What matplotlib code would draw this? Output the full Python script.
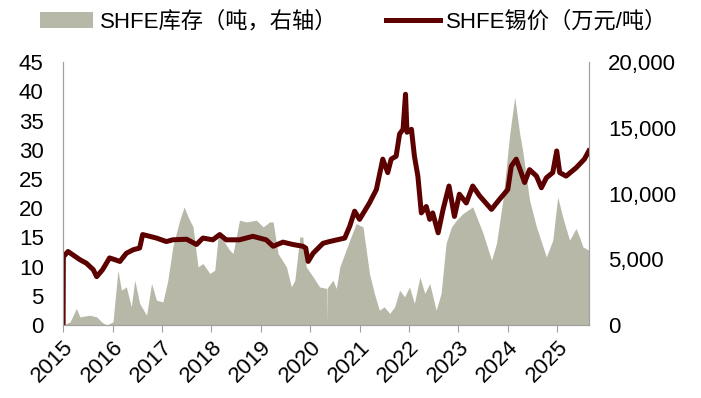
import matplotlib
matplotlib.use("Agg")
import matplotlib.pyplot as plt
from matplotlib.ticker import FuncFormatter

plt.rcParams['font.family'] = ['Liberation Sans', 'Noto Sans CJK SC', 'DejaVu Sans']

# SHFE tin price (10k yuan / ton), x in decimal years
price_t = [2015.00, 2015.005, 2015.10, 2015.34, 2015.47, 2015.61, 2015.68, 2015.80, 2015.94,
           2016.05, 2016.15, 2016.28, 2016.42, 2016.55, 2016.61, 2016.75, 2016.89,
           2017.09, 2017.22, 2017.50, 2017.70, 2017.83, 2018.03, 2018.17, 2018.30,
           2018.57, 2018.84, 2019.11, 2019.25, 2019.45, 2019.65, 2019.85, 2019.91,
           2019.96, 2020.06, 2020.26, 2020.39, 2020.70, 2020.80, 2020.90, 2021.00,
           2021.20, 2021.34, 2021.47, 2021.57, 2021.64, 2021.74, 2021.81, 2021.88,
           2021.93, 2021.96, 2022.05, 2022.11, 2022.18, 2022.25, 2022.35, 2022.42,
           2022.48, 2022.59, 2022.69, 2022.81, 2022.92, 2023.02, 2023.16, 2023.29,
           2023.43, 2023.67, 2023.83, 2024.00, 2024.07, 2024.17, 2024.27, 2024.34,
           2024.44, 2024.58, 2024.68, 2024.78, 2024.91, 2024.99, 2025.05, 2025.18,
           2025.38, 2025.55, 2025.64]
price = [0, 11.7, 12.6, 11.2, 10.6, 9.5, 8.3, 9.5, 11.5,
         11.2, 10.9, 12.3, 12.9, 13.2, 15.5, 15.2, 14.9,
         14.3, 14.6, 14.7, 13.8, 14.9, 14.6, 15.5, 14.6,
         14.6, 15.2, 14.6, 13.5, 14.2, 13.8, 13.5, 13.2,
         10.9, 12.3, 14.0, 14.3, 14.9, 16.9, 19.5, 18.1,
         20.9, 23.2, 28.4, 26.1, 28.4, 28.9, 32.7, 33.5,
         39.5, 33.0, 33.5, 28.9, 25.5, 19.2, 20.3, 18.1,
         19.2, 15.8, 19.8, 23.8, 18.6, 22.4, 20.9, 23.8,
         22.1, 19.8, 21.5, 23.2, 27.2, 28.4, 26.1, 24.4,
         26.6, 25.5, 23.5, 25.2, 26.1, 29.8, 26.1, 25.5,
         26.9, 28.4, 29.8]

# SHFE tin inventory (tons)
inv_t = [2015.00, 2015.14, 2015.27, 2015.34, 2015.54, 2015.68, 2015.78, 2015.88,
         2016.01, 2016.11, 2016.18, 2016.28, 2016.38, 2016.45, 2016.55, 2016.69,
         2016.79, 2016.89, 2017.02, 2017.12, 2017.22, 2017.36, 2017.45, 2017.53,
         2017.63, 2017.73, 2017.83, 2017.97, 2018.07, 2018.14, 2018.24, 2018.37,
         2018.44, 2018.57, 2018.71, 2018.91, 2019.05, 2019.18, 2019.25, 2019.35,
         2019.52, 2019.62, 2019.69, 2019.79, 2019.85, 2019.92, 2020.06, 2020.19,
         2020.33, 2020.335, 2020.34, 2020.46, 2020.53, 2020.60, 2020.80, 2020.93,
         2021.07, 2021.20, 2021.30, 2021.40, 2021.50, 2021.61, 2021.71, 2021.81,
         2021.91, 2022.01, 2022.11, 2022.22, 2022.32, 2022.42, 2022.55, 2022.65,
         2022.75, 2022.86, 2022.96, 2023.09, 2023.29, 2023.50, 2023.67, 2023.77,
         2023.90, 2024.04, 2024.14, 2024.24, 2024.30, 2024.44, 2024.58, 2024.78,
         2024.91, 2025.01, 2025.11, 2025.25, 2025.38, 2025.45, 2025.52, 2025.64]
inventory = [0, 250, 1270, 630, 760, 630, 250, 0,
             250, 4180, 2660, 2910, 1390, 3420, 1650, 760,
             3170, 1900, 1770, 3420, 5950, 7980, 8990, 8230,
             7470, 4430, 4690, 3930, 4180, 6840, 6460, 5700,
             5450, 7980, 7850, 7980, 7470, 7850, 7850, 5450,
             4430, 2910, 3420, 6710, 6710, 4430, 3670, 2910,
             2790, 0, 2790, 3420, 2790, 4430, 6460, 7720,
             7470, 3930, 2410, 1140, 1390, 890, 1390, 2660,
             2150, 2910, 1650, 3670, 2410, 3170, 1140, 2410,
             6210, 7470, 7980, 8480, 8990, 6970, 4940, 6210,
             9500, 14560, 17340, 14560, 13290, 9500, 7470, 5190,
             6460, 9750, 8230, 6460, 7350, 6710, 5950, 5700]

years = list(range(2015, 2026))

fig = plt.figure(figsize=(7.01, 3.98), dpi=100)
ax = fig.add_axes([0.09, 0.183, 0.750, 0.661])
ax2 = ax.twinx()

ax2.fill_between(inv_t, inventory, 0, color='#B8B8A8', lw=0,
                 label='SHFE库存（吨，右轴）')
ax.plot(price_t, price, color='#5C0000', lw=3.6, label='SHFE锡价（万元/吨）')

ax.set_zorder(ax2.get_zorder() + 1)
ax.patch.set_visible(False)

ax.set_xlim(2015, 2025.64)
ax.set_ylim(0, 45)
ax2.set_ylim(0, 20000)
ax.set_yticks(range(0, 46, 5))
ax2.set_yticks(range(0, 20001, 5000))
ax2.yaxis.set_major_formatter(FuncFormatter(lambda v, p: f'{int(v):,}'))

ax.set_xticks(years)
ax.set_xticklabels([str(y) for y in years], rotation=45, ha='right',
                   rotation_mode='anchor')

for a in (ax, ax2):
    for s in a.spines.values():
        s.set_color('#A0A0A0')
    a.spines['top'].set_visible(False)
ax.tick_params(axis='y', length=0, labelsize=16, pad=14)
ax2.tick_params(axis='y', length=0, labelsize=16, pad=14)
ax.tick_params(axis='x', length=5, color='#A0A0A0', labelsize=16, pad=3)

h1, l1 = ax2.get_legend_handles_labels()
h2, l2 = ax.get_legend_handles_labels()
fig.legend(h1 + h2, l1 + l2, loc='upper left', bbox_to_anchor=(0.057, 0.972),
           ncol=2, frameon=False, fontsize=16, handlelength=2.4,
           handletextpad=0.3, columnspacing=2.2, borderpad=0,
           borderaxespad=0)

fig.savefig('out.png', dpi=100)
